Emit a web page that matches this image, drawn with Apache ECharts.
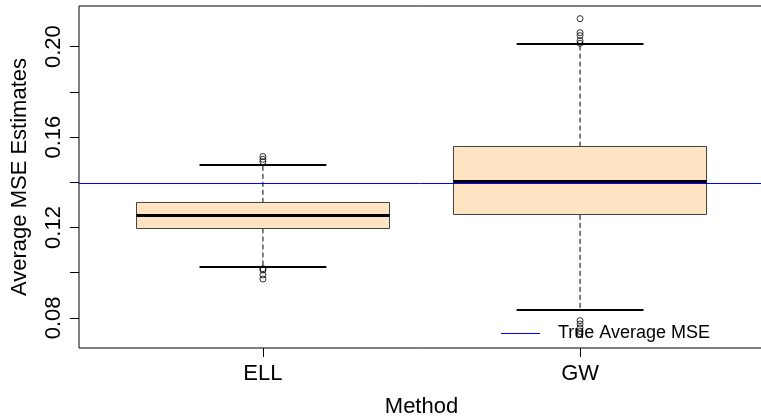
<!DOCTYPE html>
<html>
<head>
<meta charset="utf-8">
<script src="https://cdn.jsdelivr.net/npm/echarts@6/dist/echarts.min.js"></script>
<style>
html,body{margin:0;padding:0;background:#fff;}
#chart{width:761px;height:418px;}
</style>
</head>
<body>
<div id="chart"></div>
<script>
// ---- data ----
const categories = ['ELL', 'GW'];
const positions = [1, 2];
const lowerWhisker = [0.1027, 0.0833];
const q1 = [0.1196, 0.1256];
const median = [0.1253, 0.1403];
const q3 = [0.1309, 0.1558];
const upperWhisker = [0.1475, 0.2010];
const outliersELL = [0.1514, 0.1502, 0.1491, 0.1018, 0.1012, 0.0990, 0.0972];
const outliersGW = [0.2124, 0.2062, 0.2049, 0.2027, 0.2015, 0.0788, 0.0773, 0.0756, 0.0740, 0.0728];
const trueAverageMSE = 0.1393;
const yTickValues = [0.08, 0.10, 0.12, 0.14, 0.16, 0.18, 0.20];
const yLabelValues = [0.08, 0.12, 0.16, 0.20];

const FONT = '"Liberation Sans", Arial, Helvetica, sans-serif';

const boxData = positions.map((p, i) => [p, lowerWhisker[i], q1[i], median[i], q3[i], upperWhisker[i]]);
const outlierData = [];
outliersELL.forEach(v => outlierData.push([positions[0], v]));
outliersGW.forEach(v => outlierData.push([positions[1], v]));

const snap = v => Math.round(v - 0.5) + 0.5;

function renderBox(params, api) {
  const x = api.value(0);
  const lw = api.value(1), lq = api.value(2), md = api.value(3), uq = api.value(4), uw = api.value(5);
  const halfBox = 0.4, halfCap = 0.2;
  const c = (xx, yy) => api.coord([xx, yy]);
  const pTopLeft = c(x - halfBox, uq);
  const pBotRight = c(x + halfBox, lq);
  const cx = c(x, 0)[0];
  const y = v => c(x, v)[1];
  const capL = c(x - halfCap, 0)[0], capR = c(x + halfCap, 0)[0];
  const dashStyle = { stroke: '#000', lineWidth: 1, lineDash: [5, 3], fill: null };
  const solid = w => ({ stroke: '#000', lineWidth: w, fill: null });
  const bx = snap(pTopLeft[0]), by = snap(pTopLeft[1]);
  const bx2 = snap(pBotRight[0]), by2 = snap(pBotRight[1]);
  return {
    type: 'group',
    children: [
      { type: 'line', shape: { x1: cx, y1: y(uq), x2: cx, y2: y(uw) }, style: dashStyle },
      { type: 'line', shape: { x1: cx, y1: y(lq), x2: cx, y2: y(lw) }, style: dashStyle },
      { type: 'line', shape: { x1: capL, y1: Math.round(y(uw)), x2: capR, y2: Math.round(y(uw)) }, style: solid(2) },
      { type: 'line', shape: { x1: capL, y1: Math.round(y(lw)), x2: capR, y2: Math.round(y(lw)) }, style: solid(2) },
      { type: 'rect', shape: { x: bx, y: by, width: bx2 - bx, height: by2 - by },
        style: { fill: '#FFE4C4', stroke: '#444', lineWidth: 1 } },
      { type: 'line', shape: { x1: bx, y1: snap(y(md)), x2: bx2, y2: snap(y(md)) }, style: solid(3) }
    ]
  };
}

function renderHLine(params, api) {
  const cs = params.coordSys;
  const yy = snap(api.coord([positions[0], api.value(0)])[1]);
  return { type: 'line', shape: { x1: cs.x, y1: yy, x2: cs.x + cs.width, y2: yy },
    style: { stroke: '#0000FF', lineWidth: 1, fill: null } };
}

const chart = echarts.init(document.getElementById('chart'), null, { renderer: 'canvas' });
chart.setOption({
  animation: false,
  backgroundColor: '#fff',
  grid: { left: 79, top: 6, right: -3, bottom: 70, show: true, borderColor: '#000', borderWidth: 1,
    backgroundColor: 'transparent', containLabel: false, outerBoundsMode: 'none' },
  legend: {
    left: 501, top: 324.5, padding: 0,
    itemWidth: 39, itemHeight: 1,
    data: [{ name: 'True Average MSE', icon: 'rect' }],
    textStyle: { fontSize: 18, fontFamily: FONT, color: '#000', padding: [0, 0, 0, 13] },
    selectedMode: false
  },
  xAxis: {
    type: 'value', min: 0.42, max: 2.58,
    splitLine: { show: false },
    axisLine: { show: false },
    axisTick: { show: true, customValues: positions, length: 9, lineStyle: { color: '#000' } },
    axisLabel: { customValues: positions, formatter: v => categories[positions.indexOf(v)] || '',
      fontSize: 22, fontFamily: FONT, color: '#000', margin: 15 },
    name: 'Method', nameLocation: 'middle', nameGap: 48,
    nameTextStyle: { fontSize: 22, fontFamily: FONT, color: '#000' }
  },
  yAxis: {
    type: 'value', min: 0.0667, max: 0.218,
    splitLine: { show: false },
    axisLine: { show: false },
    axisTick: { show: true, customValues: yTickValues, length: 9, lineStyle: { color: '#000' } },
    axisLabel: { customValues: yLabelValues, rotate: 90, formatter: v => v.toFixed(2),
      fontSize: 22, fontFamily: FONT, color: '#000', margin: 14 },
    name: 'Average MSE Estimates', nameLocation: 'middle', nameRotate: 90, nameGap: 48,
    nameTextStyle: { fontSize: 22, fontFamily: FONT, color: '#000' }
  },
  series: [
    { type: 'custom', name: 'boxes', renderItem: renderBox, data: boxData, encode: { x: 0, y: [1, 2, 3, 4, 5] }, silent: true, z: 2 },
    { type: 'scatter', name: 'outliers', data: outlierData, symbol: 'circle', symbolSize: 6,
      itemStyle: { color: 'rgba(0,0,0,0)', borderColor: '#000', borderWidth: 1 }, silent: true, z: 3 },
    { type: 'custom', name: 'True Average MSE', renderItem: renderHLine, data: [[trueAverageMSE]],
      encode: { y: 0 }, itemStyle: { color: '#0000FF' }, silent: true, z: 4 }
  ]
});
</script>
</body>
</html>
